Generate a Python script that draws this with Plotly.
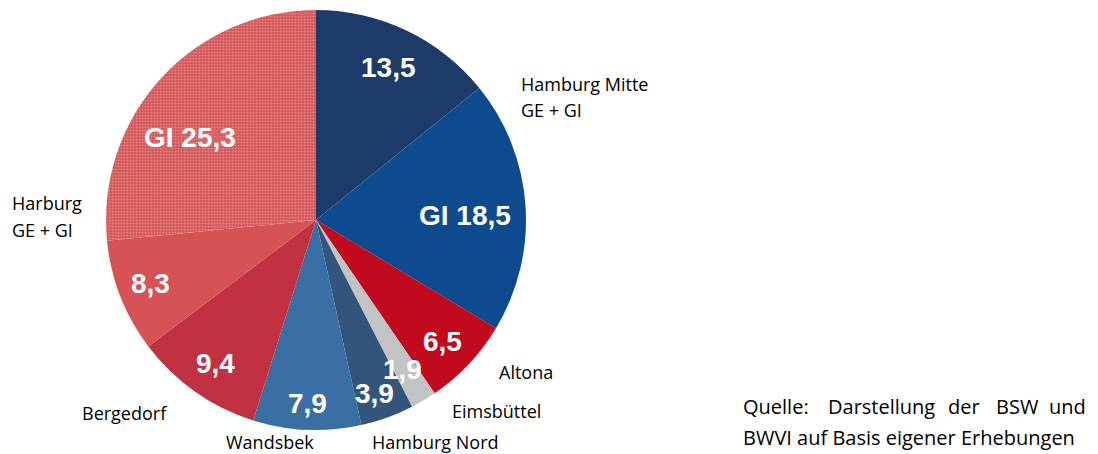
import plotly.graph_objects as go

# Flächenanteile nach Bezirk (in %), im Uhrzeigersinn ab 12 Uhr
segmente = ['Hamburg Mitte GE', 'Hamburg Mitte GI', 'Altona', 'Eimsbüttel', 'Hamburg Nord',
            'Wandsbek', 'Bergedorf', 'Harburg GE', 'Harburg GI']
werte = [13.5, 18.5, 6.5, 1.9, 3.9, 7.9, 9.4, 8.3, 25.3]
texte = ['13,5', 'GI 18,5', '6,5', '1,9', '3,9', '7,9', '9,4', '8,3', 'GI 25,3']
farben = ['#1d3b68', '#0d4a8e', '#c10a1e', '#c3c3c3', '#33557c',
          '#3a6fa5', '#c23142', '#d65254', '#d65a5c']
muster = ['', '', '', '', '', '', '', '', '.']

# Lage der Wertbeschriftungen im Kreis (Pixel)
text_x = [388, 465, 442, 402, 374, 307, 215, 150, 190]
text_y = [66, 214, 340, 368, 392, 402, 362, 282, 136]

# Bezirksbeschriftungen außerhalb des Kreises (je Zeile)
bezirk_zeilen = ['Hamburg Mitte', 'GE + GI', 'Altona', 'Eimsbüttel', 'Hamburg Nord',
                 'Wandsbek', 'Bergedorf', 'Harburg', 'GE + GI']
bezirk_x = [519, 519, 497, 450, 370, 224, 80, 10, 10]
bezirk_y = [84, 110, 372, 411, 442, 442, 413, 203, 230]

# Quellenangabe: erste Zeile im Blocksatz (Wort für Wort), zweite Zeile normal
quelle_woerter = ['Quelle:', 'Darstellung', 'der', 'BSW', 'und']
quelle_wort_x = [741, 826, 946, 994, 1088]
quelle_zeile2 = 'BWVI auf Basis eigener Erhebungen'

fig = go.Figure(go.Pie(
    labels=segmente,
    values=werte,
    textinfo='none',
    sort=False,
    direction='clockwise',
    rotation=0,
    marker=dict(colors=farben, line=dict(width=0),
                pattern=dict(shape=muster, fgcolor='#eebcbc', size=3, solidity=0.25,
                             fillmode='overlay')),
    domain=dict(x=[(316 - 210) / 1098, (316 + 210) / 1098],
                y=[1 - 430 / 454, 1 - 10 / 454]),
    showlegend=False,
))

for t, x, y in zip(texte, text_x, text_y):
    fig.add_annotation(text=t, x=x / 1098, y=1 - (y + 1) / 454, xref='paper', yref='paper',
                       xanchor='center', yanchor='middle', showarrow=False,
                       font=dict(family='Liberation Sans', size=28, color='white', weight='bold'))

for name, x, y in zip(bezirk_zeilen, bezirk_x, bezirk_y):
    fig.add_annotation(text=name, x=x / 1098, y=1 - y / 454, xref='paper', yref='paper',
                       xanchor='left', yanchor='middle', showarrow=False,
                       font=dict(family='Open Sans', size=18, color='black'))

for i, (wort, x) in enumerate(zip(quelle_woerter, quelle_wort_x)):
    fig.add_annotation(text=wort, x=x / 1098, y=1 - 406 / 454, xref='paper', yref='paper',
                       xanchor='right' if i == len(quelle_woerter) - 1 else 'left',
                       yanchor='middle', showarrow=False,
                       font=dict(family='Open Sans', size=20, color='black'))

fig.add_annotation(text=quelle_zeile2, x=741 / 1098, y=1 - 437 / 454, xref='paper', yref='paper',
                   xanchor='left', yanchor='middle', showarrow=False,
                   font=dict(family='Open Sans', size=20, color='black'))

fig.update_layout(width=1098, height=454, margin=dict(l=0, r=0, t=0, b=0),
                  paper_bgcolor='white', plot_bgcolor='white')

fig.write_html("out.html", config={'displayModeBar': False},
               post_script="document.body.style.margin='0';")
